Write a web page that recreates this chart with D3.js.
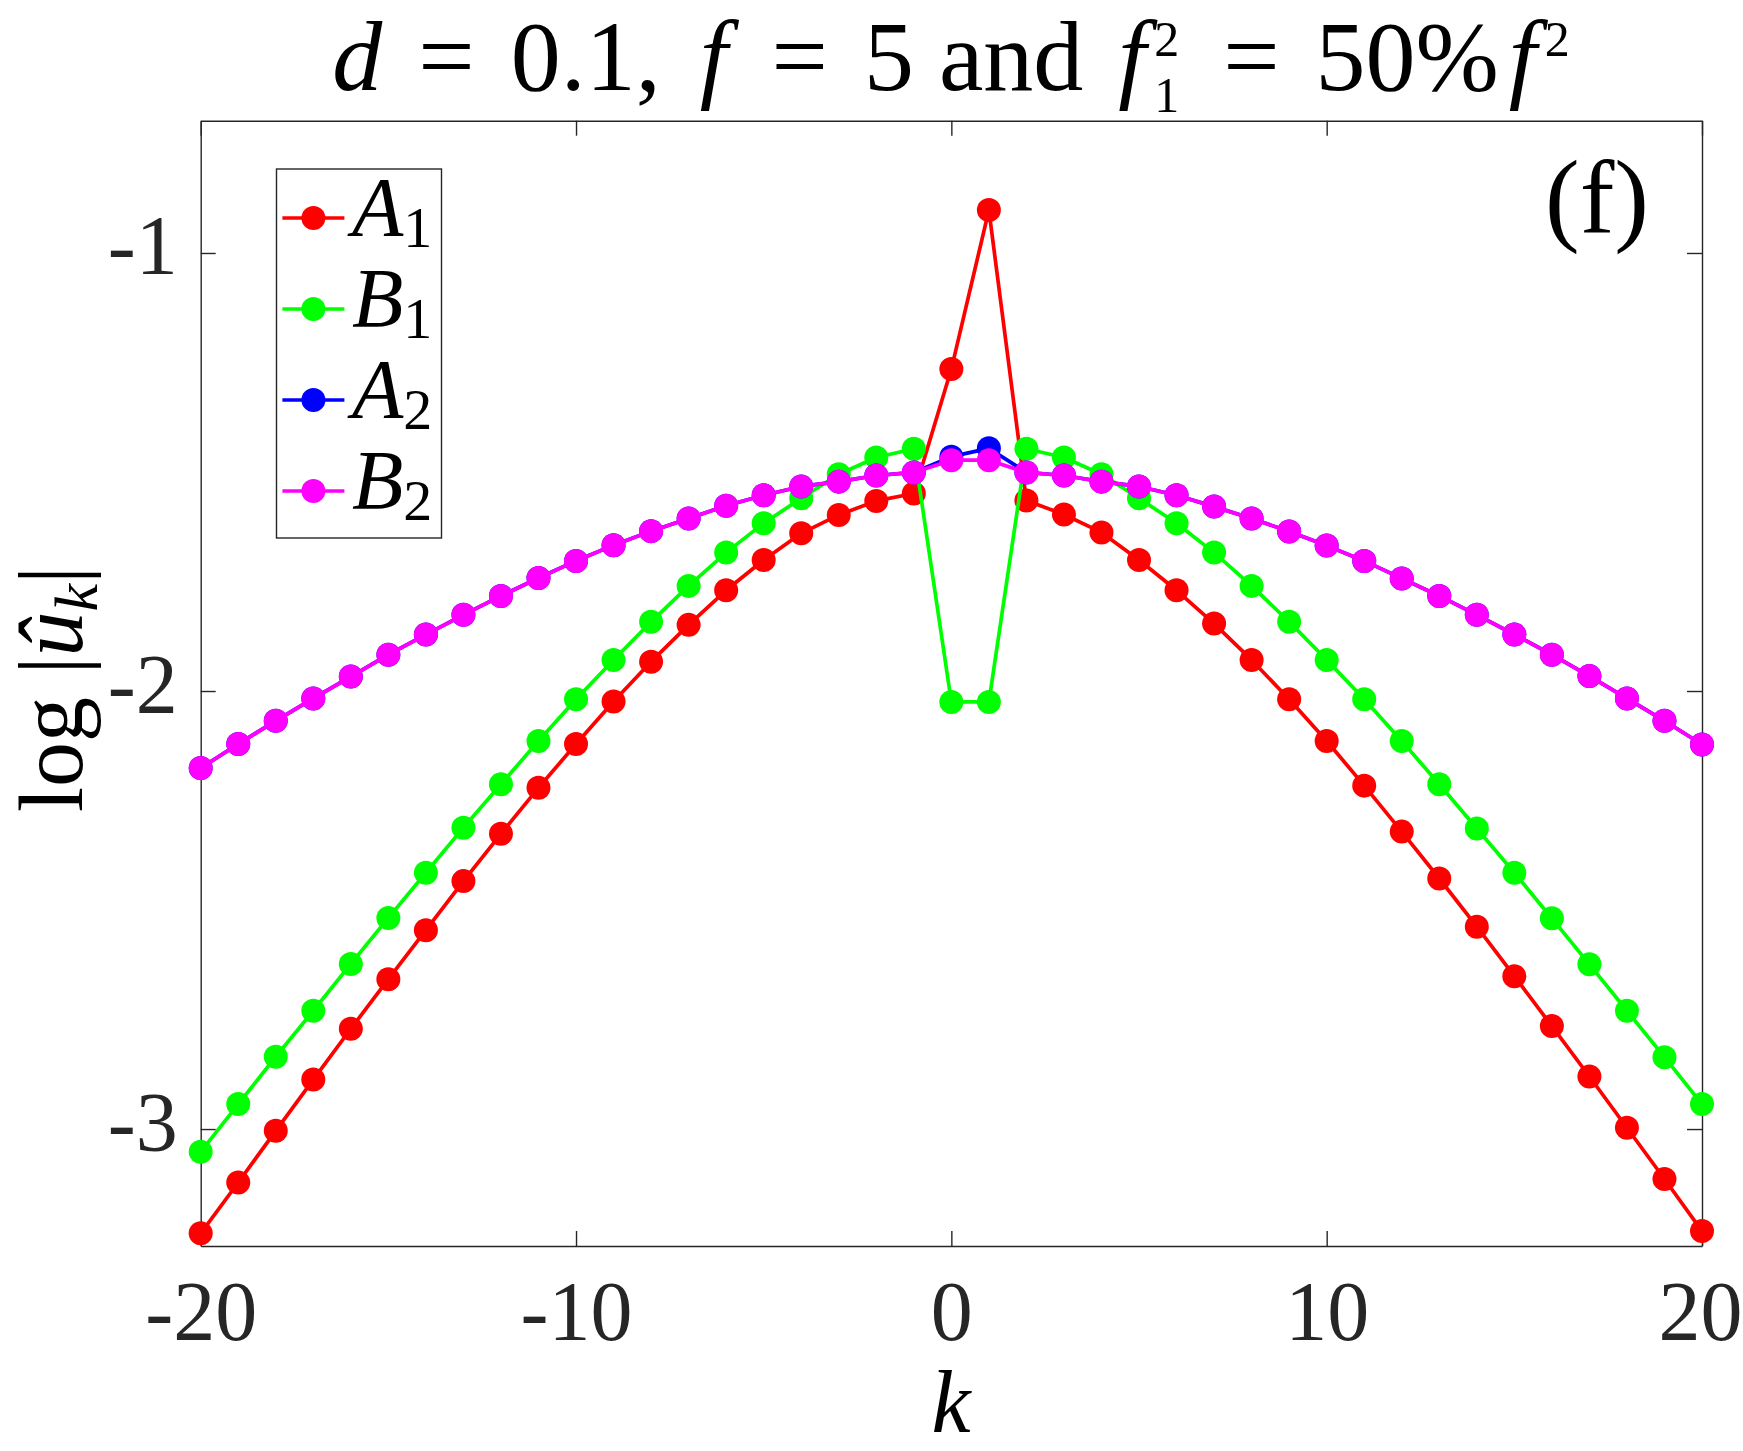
<!DOCTYPE html>
<html>
<head>
<meta charset="utf-8">
<script src="https://cdn.jsdelivr.net/npm/d3@7"></script>
<style>
  html, body { margin: 0; padding: 0; background: #fff; }
  svg text { font-family: "Liberation Serif", "DejaVu Serif", serif; fill: #262626; }
  .it { font-style: italic; }
</style>
</head>
<body>
<svg id="chart" width="1743" height="1451"></svg>
<script>
// wavenumber k
let ks = [-20, -19, -18, -17, -16, -15, -14, -13, -12, -11, -10, -9, -8, -7, -6, -5, -4, -3, -2, -1,
          0, 1, 2, 3, 4, 5, 6, 7, 8, 9, 10, 11, 12, 13, 14, 15, 16, 17, 18, 19, 20];

// log|u_k|
let a1 = [-3.238, -3.122, -3.004, -2.887, -2.771, -2.658, -2.546, -2.434, -2.326, -2.221,
          -2.121, -2.024, -1.933, -1.849, -1.770, -1.701, -1.640, -1.598, -1.566, -1.549,
          -1.265, -0.902, -1.565, -1.597, -1.638, -1.701, -1.770, -1.846, -1.929, -2.019,
          -2.114, -2.216, -2.321, -2.428, -2.538, -2.651, -2.765, -2.880, -2.997, -3.114, -3.233];
let b1 = [-3.052, -2.943, -2.835, -2.730, -2.623, -2.518, -2.415, -2.312, -2.213, -2.114,
          -2.019, -1.929, -1.842, -1.760, -1.684, -1.617, -1.560, -1.505, -1.467, -1.447,
          -2.025, -2.025, -1.447, -1.467, -1.505, -1.560, -1.617, -1.684, -1.760, -1.842,
          -1.929, -2.019, -2.114, -2.213, -2.314, -2.415, -2.519, -2.624, -2.730, -2.836, -2.943];
let a2 = [-2.176, -2.121, -2.068, -2.017, -1.967, -1.917, -1.871, -1.826, -1.783, -1.742,
          -1.703, -1.667, -1.635, -1.606, -1.577, -1.553, -1.533, -1.522, -1.508, -1.501,
          -1.465, -1.446, -1.501, -1.508, -1.522, -1.533, -1.553, -1.579, -1.606, -1.636,
          -1.668, -1.703, -1.743, -1.783, -1.826, -1.871, -1.917, -1.966, -2.017, -2.068, -2.122];
let b2 = [-2.176, -2.121, -2.068, -2.017, -1.967, -1.917, -1.871, -1.826, -1.783, -1.742,
          -1.703, -1.667, -1.635, -1.606, -1.577, -1.553, -1.533, -1.522, -1.508, -1.501,
          -1.473, -1.473, -1.501, -1.508, -1.522, -1.533, -1.553, -1.579, -1.606, -1.636,
          -1.668, -1.703, -1.743, -1.783, -1.826, -1.871, -1.917, -1.966, -2.017, -2.068, -2.122];

let xticks = [-20, -10, 0, 10, 20];
let yticks = [-3, -2, -1];

let series = [
  {name: "A", sub: "1", color: "#ff0000", values: a1},
  {name: "B", sub: "1", color: "#00ff00", values: b1},
  {name: "A", sub: "2", color: "#0000ff", values: a2},
  {name: "B", sub: "2", color: "#ff00ff", values: b2}
];

const svg = d3.select("svg#chart");
const plotL = 200.7, plotR = 1702, plotT = 120.7, plotB = 1246;
const axisColor = "#262626";

const x = d3.scaleLinear().domain([-20, 20]).range([plotL, plotR]);
const y = d3.scaleLinear().domain([-3.267, -0.698]).range([plotB, plotT]);

// plain hyphen like the original, not the unicode minus
let fmt = d => String(d);

function styleAxis(g){
  g.select(".domain").attr("stroke", axisColor).attr("stroke-width", 1.4);
  g.selectAll(".tick line").attr("stroke", axisColor).attr("stroke-width", 1.4);
  g.selectAll(".tick text").attr("fill", axisColor).style("font-size", "84px");
}

svg.append("g")
  .attr("transform", "translate(0," + plotB + ")")
  .call(d3.axisBottom(x).tickValues(xticks).tickFormat(fmt).tickSizeInner(-15).tickSizeOuter(0))
  .call(styleAxis)
  .call(g => g.selectAll(".tick text").attr("y", 94).attr("dy", 0)
    .attr("dx", d => d == 20 ? -2 : 0));

svg.append("g")
  .attr("transform", "translate(0," + plotT + ")")
  .call(d3.axisTop(x).tickValues(xticks).tickFormat("").tickSizeInner(-15).tickSizeOuter(0))
  .call(styleAxis);

svg.append("g")
  .attr("transform", "translate(" + plotL + ",0)")
  .call(d3.axisLeft(y).tickValues(yticks).tickFormat(fmt).tickSizeInner(-15).tickSizeOuter(0))
  .call(styleAxis)
  .call(g => g.selectAll(".tick text").attr("x", -23).attr("dy", "0.25em"));

svg.append("g")
  .attr("transform", "translate(" + plotR + ",0)")
  .call(d3.axisRight(y).tickValues(yticks).tickFormat("").tickSizeInner(-15).tickSizeOuter(0))
  .call(styleAxis);

// data
const line = d3.line()
  .x((d, i) => x(ks[i]))
  .y(d => y(d));

for (let s of series){
  let g = svg.append("g");
  g.append("path")
    .attr("d", line(s.values))
    .attr("fill", "none")
    .attr("stroke", s.color)
    .attr("stroke-width", 3.7)
    .attr("stroke-linejoin", "round");
  g.selectAll("circle")
    .data(s.values)
    .join("circle")
    .attr("cx", (d, i) => x(ks[i]))
    .attr("cy", d => y(d))
    .attr("r", 12)
    .attr("fill", s.color);
}

// legend
const leg = svg.append("g");
leg.append("rect")
  .attr("x", 276.5).attr("y", 169).attr("width", 165).attr("height", 369)
  .attr("fill", "#fff").attr("stroke", axisColor).attr("stroke-width", 1.4);

series.forEach(function(s, i){
  let ry = 218 + i * 91;
  leg.append("line")
    .attr("x1", 282.4).attr("x2", 344.4).attr("y1", ry).attr("y2", ry)
    .attr("stroke", s.color).attr("stroke-width", 3.7);
  leg.append("circle")
    .attr("cx", 313.4).attr("cy", ry).attr("r", 12).attr("fill", s.color);
  let t = leg.append("text")
    .attr("x", 352).attr("y", ry + 18)
    .style("font-size", "84px").style("fill", "#000");
  t.append("tspan").attr("class", "it").text(s.name);
  t.append("tspan").attr("dy", 11).style("font-size", "58px").text(s.sub);
});

// title: pieces with extra dx to imitate the wider TeX glyphs/spacing
// [text, italic, dx, dy, size]
let titleParts = [
  ["d", 1, 0, 0, 0],
  [" ", 0, 0, 0, 0], ["=", 0, 11, 0, 0], [" 0.1, ", 0, 11, 0, 0],
  ["f", 1, 14, 0, 0],
  [" ", 0, 8, 0, 0], ["=", 0, 11, 0, 0], [" 5 and ", 0, 11, 0, 0],
  ["f", 1, 10, 0, 0], ["2", 0, 8, -34, 50], ["1", 0, -25, 56, 50],
  [" ", 0, 8, -22, 0], ["=", 0, 11, 0, 0], [" 50%", 0, 11, 0, 0],
  ["f", 1, 10, 0, 0], ["2", 0, 8, -34, 50]
];
const title = svg.append("text")
  .attr("x", 951).attr("y", 90)
  .attr("text-anchor", "middle")
  .style("font-size", "100px").style("fill", "#000");
for (let p of titleParts){
  let ts = title.append("tspan").text(p[0]);
  if (p[1]) ts.attr("class", "it");
  if (p[2]) ts.attr("dx", p[2]);
  if (p[3]) ts.attr("dy", p[3]);
  if (p[4]) ts.style("font-size", p[4] + "px");
}

// y label
const ylab = svg.append("text")
  .attr("transform", "translate(82,689) rotate(-90)")
  .attr("text-anchor", "middle")
  .style("font-size", "90px").style("fill", "#000");
ylab.append("tspan").text("log |");
ylab.append("tspan").attr("class", "it").text("\u00fb");
ylab.append("tspan").attr("class", "it").attr("dy", 15).style("font-size", "62px").text("k");
ylab.append("tspan").attr("dy", -15).text("|");

// x label
svg.append("text")
  .attr("x", 951).attr("y", 1432)
  .attr("text-anchor", "middle")
  .attr("class", "it")
  .style("font-size", "88px").style("fill", "#000")
  .text("k");

// panel tag
svg.append("text")
  .attr("x", 1545).attr("y", 232)
  .style("font-size", "104px").style("fill", "#000")
  .text("(f)");
</script>
</body>
</html>
